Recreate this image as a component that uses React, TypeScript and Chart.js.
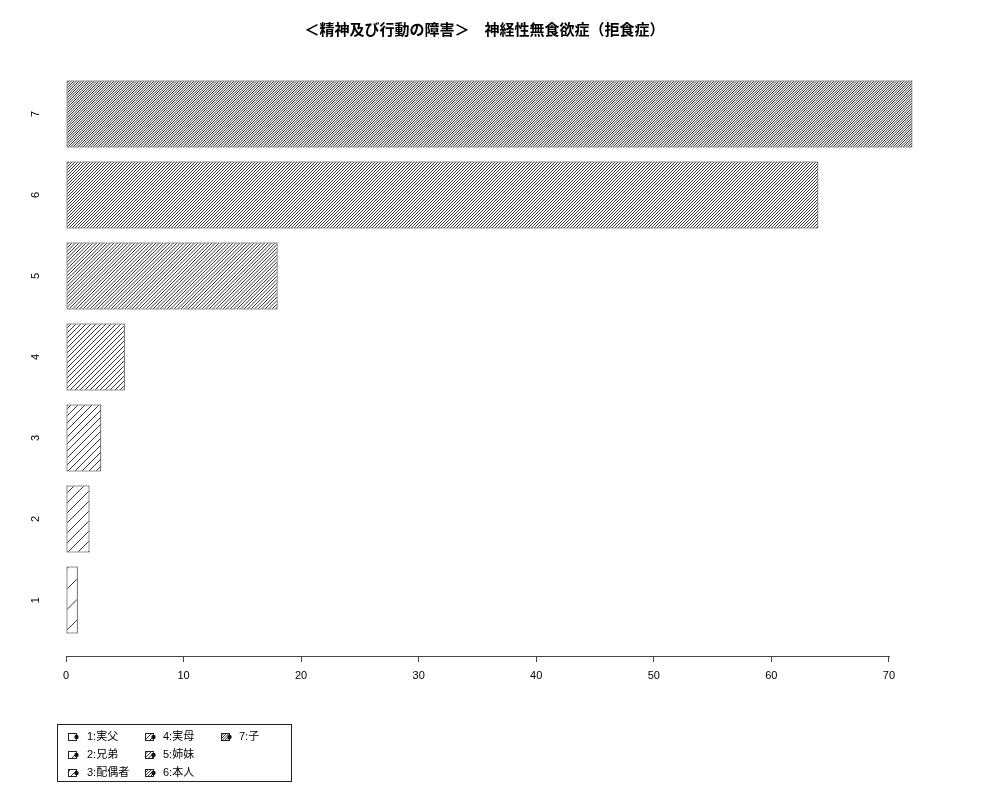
import React, { useEffect, useRef } from "react";
import { Chart, registerables } from "chart.js";

Chart.register(...registerables);

const titleText = "＜精神及び行動の障害＞　神経性無食欲症（拒食症）";
const categories = ["1", "2", "3", "4", "5", "6", "7"];
const values = [1, 2, 3, 5, 18, 64, 72];
const legendLabels = ["1:実父", "2:兄弟", "3:配偶者", "4:実母", "5:姉妹", "6:本人", "7:子"];
// hatch density, lines per inch (R style)
const hatchDensities = [5, 10, 15, 20, 30, 35, 40];
const xTicks = [0, 10, 20, 30, 40, 50, 60, 70];

const FONT = "'Liberation Sans', 'Noto Sans CJK JP', sans-serif";

// 45 degree hatch pattern, spacing taken from density at 72 dpi
const makeHatch = (density: number) => {
  // vertical period in px, snapped to half pixels so the tile stays tiny (no moire)
  const p = Math.max(2, Math.round((72 / density) * Math.SQRT2 * 2) / 2);
  const n = 2;
  const T = Math.round(p * n);
  const step = T / n;
  const c = document.createElement("canvas");
  c.width = T;
  c.height = T;
  const g = c.getContext("2d")!;
  g.fillStyle = "#fff";
  g.fillRect(0, 0, T, T);
  g.strokeStyle = "#000";
  g.lineWidth = 0.8;
  g.beginPath();
  for (let k = -1; k <= 2 * n + 1; k++) {
    const cc = k * step;
    g.moveTo(cc + T, -T);
    g.lineTo(cc - 2 * T, 2 * T);
  }
  g.stroke();
  return g.createPattern(c, "repeat")!;
};

export default function App() {
  const canvasRef = useRef<HTMLCanvasElement>(null);

  useEffect(() => {
    document.body.style.margin = "0";
    if (!canvasRef.current) return;
    const patterns = hatchDensities.map(makeHatch);

    const axisLine = {
      id: "axisLine",
      afterDraw(chart: any) {
        const { ctx, chartArea } = chart;
        const xs = chart.scales.x;
        const y = Math.round(chartArea.bottom) + 0.5;
        ctx.save();
        ctx.strokeStyle = "#444";
        ctx.lineWidth = 1;
        ctx.beginPath();
        ctx.moveTo(Math.round(xs.getPixelForValue(xTicks[0])), y);
        ctx.lineTo(Math.round(xs.getPixelForValue(xTicks[xTicks.length - 1])) + 1, y);
        ctx.stroke();
        ctx.restore();
      },
    };

    const boxLegend = {
      id: "boxLegend",
      afterDraw(chart: any) {
        const { ctx } = chart;
        ctx.save();
        ctx.strokeStyle = "#222";
        ctx.lineWidth = 1;
        ctx.strokeRect(57.5, 724.5, 234, 57);
        const swatchX = [68, 145, 221];
        const textX = [87, 163, 239];
        const rowY = [737, 755, 773];
        ctx.font = `11px ${FONT}`;
        ctx.textBaseline = "middle";
        ctx.textAlign = "left";
        legendLabels.forEach((label, i) => {
          const col = Math.floor(i / 3);
          const row = i % 3;
          const sx = swatchX[col] + 0.5;
          const sy = rowY[row] - 3.5;
          ctx.fillStyle = patterns[i];
          ctx.fillRect(sx, sy, 8, 7);
          ctx.strokeStyle = "#222";
          ctx.strokeRect(sx, sy, 8, 7);
          ctx.fillStyle = "#111";
          ctx.beginPath();
          ctx.arc(sx + 8, sy + 3.5, 2.2, 0, Math.PI * 2);
          ctx.fill();
          ctx.fillStyle = "#000";
          ctx.fillText(label, textX[col], rowY[row]);
        });
        ctx.restore();
      },
    };

    const chart = new Chart(canvasRef.current, {
      type: "bar",
      data: {
        datasets: [
          {
            data: values.map((v, i) => ({ x: v, y: i + 1 })),
            backgroundColor: patterns,
            borderColor: "#222",
            borderWidth: 1,
            borderSkipped: false,
            categoryPercentage: 1,
            barPercentage: 67 / 81,
            clip: false,
          } as any,
        ],
      },
      options: {
        indexAxis: "y",
        responsive: false,
        animation: false,
        layout: { padding: { left: 0, right: 97, top: 0, bottom: 0 } },
        plugins: {
          legend: { display: false },
          tooltip: { enabled: false },
          title: {
            display: true,
            text: titleText,
            fullSize: false,
            color: "#000",
            font: { family: FONT, size: 15, weight: "bold" },
            padding: { top: 22, bottom: 18 },
          },
        },
        scales: {
          x: {
            type: "linear",
            min: 0,
            max: 71.2,
            afterBuildTicks: (scale: any) => {
              scale.ticks = xTicks.map((v) => ({ value: v }));
            },
            afterFit: (scale: any) => {
              scale.height = 144;
            },
            grid: {
              display: true,
              drawOnChartArea: false,
              drawTicks: true,
              tickLength: 6,
              color: "#444",
            },
            border: { display: false },
            ticks: {
              color: "#000",
              padding: 7,
              maxRotation: 0,
              font: { family: FONT, size: 11 },
            },
          },
          y: {
            type: "linear",
            offset: false,
            min: 0.31,
            max: 7.69,
            afterBuildTicks: (scale: any) => {
              scale.ticks = categories.map((_, i) => ({ value: i + 1 }));
            },
            afterFit: (scale: any) => {
              scale.width = 66;
            },
            grid: { display: false, drawTicks: false },
            border: { display: false },
            ticks: {
              color: "#000",
              padding: 27,
              minRotation: 90,
              maxRotation: 90,
              crossAlign: "center",
              font: { family: FONT, size: 11 },
              callback: (v: any) => categories[Math.round(Number(v)) - 1] ?? "",
            },
          },
        },
      },
      plugins: [axisLine, boxLegend],
    });

    return () => chart.destroy();
  }, []);

  return (
    <div style={{ width: 1000, height: 800, background: "#fff" }}>
      <canvas ref={canvasRef} width={1000} height={800} />
    </div>
  );
}
